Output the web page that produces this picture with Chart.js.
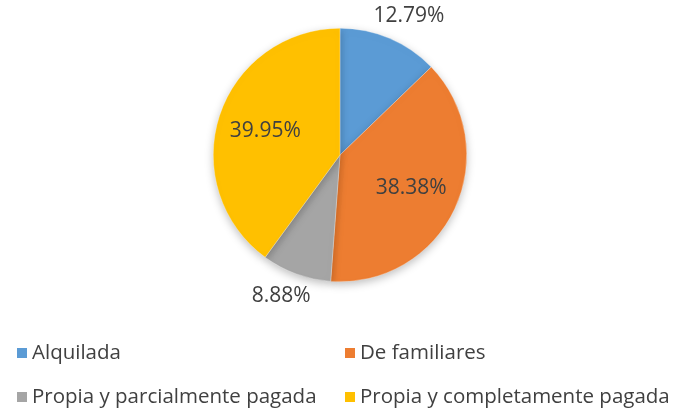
<!DOCTYPE html>
<html>
<head>
<meta charset="utf-8">
<script src="https://cdn.jsdelivr.net/npm/chart.js@4"></script>
<style>
  body { margin: 0; background: #fff; }
  canvas { display: block; }
</style>
</head>
<body>
<canvas id="tenenciaPie" width="675" height="410"></canvas>
<script>
const categories = ['Alquilada', 'De familiares', 'Propia y parcialmente pagada', 'Propia y completamente pagada'];
const percentages = [12.79, 38.38, 8.88, 39.95];
const sliceColors = ['#5B9BD5', '#ED7D31', '#A5A5A5', '#FFC000'];
// slices small enough to get their label outside the pie
const outsideLabel = [true, false, true, false];

const textColor = '#404040';
const fontFamily = '"Open Sans", "Noto Sans", sans-serif';

// percentage labels on the slices
const sliceLabels = {
    id: 'sliceLabels',
    afterDatasetsDraw(chart) {
        const ctx = chart.ctx;
        const meta = chart.getDatasetMeta(0);
        ctx.save();
        ctx.font = '21px ' + fontFamily;
        ctx.fillStyle = textColor;
        ctx.textAlign = 'center';
        ctx.textBaseline = 'middle';
        meta.data.forEach((arc, i) => {
            const mid = (arc.startAngle + arc.endAngle) / 2;
            const dx = Math.cos(mid), dy = Math.sin(mid);
            const text = percentages[i].toFixed(2) + '%';
            let x, y;
            if (outsideLabel[i]) {
                const hw = ctx.measureText(text).width / 2, hh = 10;
                const d = arc.outerRadius + 14;
                x = arc.x + dx * d + dx * hw;
                y = arc.y + dy * d + dy * hh;
            } else {
                const d = arc.outerRadius * 0.62;
                x = arc.x + dx * d;
                y = arc.y + dy * d;
            }
            ctx.fillText(text, x, y);
        });
        ctx.restore();
    }
};

// two-column legend under the pie
const gridLegend = {
    id: 'gridLegend',
    afterDraw(chart) {
        const ctx = chart.ctx;
        const colX = [17, 345];
        const rowY = [353, 397];
        ctx.save();
        ctx.font = '20.5px ' + fontFamily;
        ctx.textBaseline = 'middle';
        ctx.textAlign = 'left';
        chart.data.labels.forEach((label, i) => {
            const x = colX[i % 2];
            const y = rowY[Math.floor(i / 2)];
            ctx.fillStyle = chart.data.datasets[0].backgroundColor[i];
            ctx.fillRect(x, y - 5, 10, 10);
            ctx.fillStyle = textColor;
            ctx.fillText(label, x + 15, y);
        });
        ctx.restore();
    }
};

// soft shadow under the pie
const pieShadow = {
    id: 'pieShadow',
    beforeDatasetsDraw(chart) {
        const ctx = chart.ctx;
        ctx.save();
        ctx.shadowColor = 'rgba(0,0,0,0.25)';
        ctx.shadowBlur = 8;
        ctx.shadowOffsetY = 3;
    },
    afterDatasetsDraw(chart) {
        chart.ctx.restore();
    }
};

const ctxPie = document.getElementById('tenenciaPie').getContext('2d');
const tenenciaPie = new Chart(ctxPie, {
    type: 'pie',
    data: {
        labels: categories,
        datasets: [{
            data: percentages,
            backgroundColor: sliceColors,
            borderColor: 'rgba(255,255,255,0.6)',
            borderWidth: 0.5
        }]
    },
    options: {
        responsive: false,
        animation: false,
        layout: {
            padding: { top: 28, bottom: 128, left: 5, right: 0 }
        },
        plugins: {
            legend: { display: false },
            tooltip: { enabled: false }
        }
    },
    plugins: [pieShadow, sliceLabels, gridLegend]
});
</script>
</body>
</html>
